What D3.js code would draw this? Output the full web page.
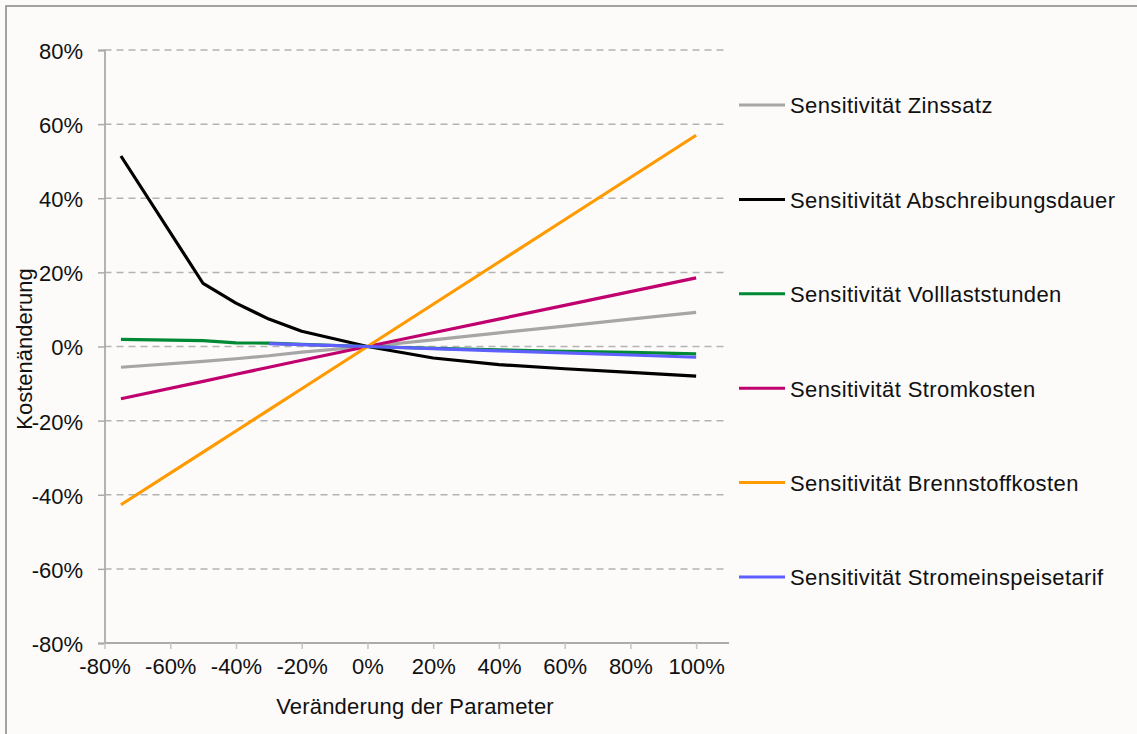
<!DOCTYPE html>
<html>
<head>
<meta charset="utf-8">
<script src="https://cdn.jsdelivr.net/npm/d3@7"></script>
<style>
  html, body { margin: 0; padding: 0; background: #fcfbf9; }
  svg { display: block; }
  text { font-family: "Liberation Sans", Arial, Helvetica, sans-serif; fill: #111; }
</style>
</head>
<body>
<svg id="chart" width="1137" height="734"></svg>
<script>
// ---- data (percent values) ----
const paramSteps = [-75, -50, -40, -30, -20, 0, 20, 40, 60, 80, 100];
const zinssatz          = [-5.6, -4.0, -3.3, -2.5, -1.5, 0, 1.8, 3.7, 5.5, 7.4, 9.2];
const abschreibung      = [51.4, 17.0, 11.7, 7.4, 4.1, 0, -3.1, -4.9, -6.0, -7.0, -8.0];
const volllaststunden   = [1.9, 1.6, 1.0, 0.9, 0.6, 0, -0.5, -0.9, -1.3, -1.6, -2.0];
const stromkosten       = [-14.1, -9.4, -7.5, -5.6, -3.7, 0, 3.7, 7.4, 11.1, 14.8, 18.5];
const brennstoffkosten  = [-42.7, -28.5, -22.8, -17.1, -11.4, 0, 11.4, 22.8, 34.2, 45.6, 57.0];
const stromeinspeisung  = [null, null, null, 0.8, 0.5, 0, -0.6, -1.2, -1.7, -2.3, -2.9];

const seriesNames = [
  "Sensitivität Zinssatz",
  "Sensitivität Abschreibungsdauer",
  "Sensitivität Volllaststunden",
  "Sensitivität Stromkosten",
  "Sensitivität Brennstoffkosten",
  "Sensitivität Stromeinspeisetarif"
];
const seriesValues = [zinssatz, abschreibung, volllaststunden, stromkosten, brennstoffkosten, stromeinspeisung];
const seriesColors = ["#a6a6a6", "#000000", "#008a35", "#c0006e", "#ff9a00", "#5f5fff"];

const xTickValues = [-80, -60, -40, -20, 0, 20, 40, 60, 80, 100];
const yTickValues = [-80, -60, -40, -20, 0, 20, 40, 60, 80];

// ---- layout ----
const svg = d3.select("#chart");
const W = 1137, H = 734;
const plot = { left: 104.5, right: 729, top: 50, bottom: 643 };

// outer border (right/bottom fall outside the view)
svg.append("rect")
  .attr("x", 6).attr("y", 6).attr("width", W + 10).attr("height", H + 10)
  .attr("fill", "#fcfbf9").attr("stroke", "#8c8c8c").attr("stroke-width", 1.6);

const x = d3.scaleLinear().domain([-80, 110]).range([plot.left, plot.right]);
const y = d3.scaleLinear().domain([-80, 80]).range([plot.bottom, plot.top]);
const pct = d => d + "%";

// gridlines
svg.append("g").selectAll("line")
  .data(yTickValues.filter(v => v > -80))
  .join("line")
  .attr("x1", plot.left).attr("x2", 724)
  .attr("y1", d => y(d)).attr("y2", d => y(d))
  .attr("stroke", "#b3b3b3").attr("stroke-width", 1.5)
  .attr("stroke-dasharray", "7,5");

// y axis
const yAxis = svg.append("g")
  .attr("transform", `translate(${plot.left},0)`)
  .call(d3.axisLeft(y).tickValues(yTickValues).tickFormat(pct).tickSize(6.5).tickPadding(15));
yAxis.select(".domain").attr("stroke", "#ababab").attr("stroke-width", 1.8);
yAxis.selectAll(".tick line").attr("stroke", "#ababab").attr("stroke-width", 1.5);
yAxis.selectAll(".tick text").attr("font-size", 22).attr("dy", "0.38em")
  .style("font-family", '"Liberation Sans", Arial, sans-serif').attr("fill", "#111");

// x axis
const xAxis = svg.append("g")
  .attr("transform", `translate(0,${plot.bottom})`)
  .call(d3.axisBottom(x).tickValues(xTickValues).tickFormat(pct).tickSize(6).tickPadding(9));
xAxis.select(".domain").attr("stroke", "#ababab").attr("stroke-width", 1.8)
  .attr("d", `M${plot.left},0H${plot.right}`);
xAxis.selectAll(".tick line").attr("stroke", "#c4c4c4").attr("stroke-width", 1.5);
xAxis.selectAll(".tick text").attr("font-size", 22)
  .style("font-family", '"Liberation Sans", Arial, sans-serif').attr("fill", "#111");

// axis titles
svg.append("text")
  .attr("x", 415).attr("y", 714)
  .attr("text-anchor", "middle").attr("font-size", 22)
  .attr("letter-spacing", 0.2)
  .text("Veränderung der Parameter");
svg.append("text")
  .attr("transform", `translate(32,349) rotate(-90)`)
  .attr("text-anchor", "middle").attr("font-size", 22)
  .text("Kostenänderung");

// lines
const line = d3.line()
  .defined(d => d[1] !== null)
  .x(d => x(d[0])).y(d => y(d[1]));

seriesValues.forEach((vals, i) => {
  const pts = paramSteps.map((s, j) => [s, vals[j]]);
  svg.append("path")
    .datum(pts)
    .attr("d", line)
    .attr("fill", "none")
    .attr("stroke", seriesColors[i])
    .attr("stroke-width", 3.2)
    .attr("stroke-linejoin", "round");
});

// legend
const legendY = d3.scalePoint().domain(seriesNames).range([105, 577]);
const leg = svg.append("g");
seriesNames.forEach((name, i) => {
  const yy = legendY(name);
  leg.append("line")
    .attr("x1", 739).attr("x2", 785).attr("y1", yy).attr("y2", yy)
    .attr("stroke", seriesColors[i]).attr("stroke-width", 3);
  leg.append("text")
    .attr("x", 790).attr("y", yy).attr("dy", "0.38em")
    .attr("font-size", 22).attr("letter-spacing", 0.4).text(name);
});
</script>
</body>
</html>
